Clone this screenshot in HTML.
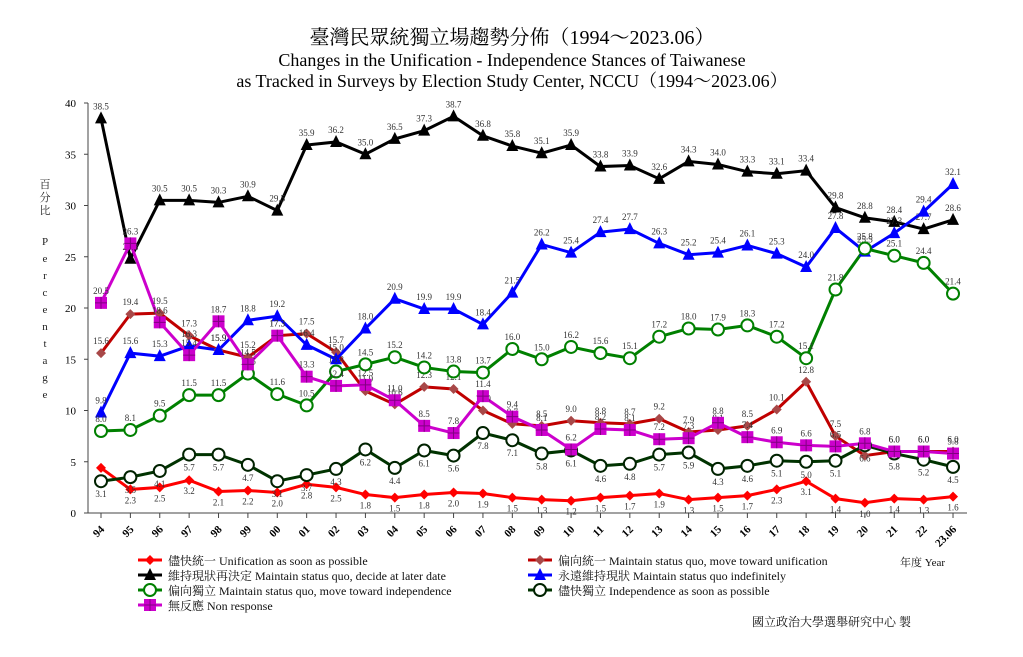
<!DOCTYPE html>
<html><head><meta charset="utf-8"><style>
body{margin:0;background:#fff;}
svg{display:block;font-family:"Liberation Serif","Noto Serif CJK SC","Noto Sans CJK TC",serif;}
</style></head><body>
<svg id="c" width="1023" height="657" viewBox="0 0 1023 657" xmlns="http://www.w3.org/2000/svg">
<rect width="1023" height="657" fill="#fff"/>
<text x="512" y="44" font-size="20" text-anchor="middle">臺灣民眾統獨立場趨勢分佈（1994～2023.06）</text>
<text x="512" y="66" font-size="18" text-anchor="middle">Changes in the Unification - Independence Stances of Taiwanese</text>
<text x="512" y="87" font-size="18" text-anchor="middle">as Tracked in Surveys by Election Study Center, NCCU（1994～2023.06）</text>
<g font-size="11" fill="#222">
<text x="45" y="188" text-anchor="middle">百</text><text x="45" y="201" text-anchor="middle">分</text><text x="45" y="214" text-anchor="middle">比</text>
<text x="45" y="245" text-anchor="middle">P</text><text x="45" y="262" text-anchor="middle">e</text><text x="45" y="279" text-anchor="middle">r</text><text x="45" y="296" text-anchor="middle">c</text><text x="45" y="313" text-anchor="middle">e</text><text x="45" y="330" text-anchor="middle">n</text><text x="45" y="347" text-anchor="middle">t</text><text x="45" y="364" text-anchor="middle">a</text><text x="45" y="381" text-anchor="middle">g</text><text x="45" y="398" text-anchor="middle">e</text>
</g>
<g id="axes" stroke="#444" stroke-width="1"></g>
<g id="plot"></g>
<g font-size="12" fill="#111">
<text x="168" y="565">儘快統一 Unification as soon as possible</text>
<text x="168" y="580">維持現狀再決定 Maintain status quo, decide at later date</text>
<text x="168" y="595">偏向獨立 Maintain status quo, move toward independence</text>
<text x="168" y="610">無反應 Non response</text>
<text x="558" y="565">偏向統一 Maintain status quo, move toward unification</text>
<text x="558" y="580">永遠維持現狀 Maintain status quo indefinitely</text>
<text x="558" y="595">儘快獨立 Independence as soon as possible</text>
<text x="900" y="566" font-size="11">年度 Year</text>
<text x="752" y="626" font-size="12">國立政治大學選舉研究中心 製</text>
</g>
<g id="leg"></g>
</svg>
<script>
var NS="http://www.w3.org/2000/svg",svg=document.getElementById('c');
function el(p,t,a,txt){var e=document.createElementNS(NS,t);for(var k in a)e.setAttribute(k,a[k]);if(txt!=null)e.textContent=txt;p.appendChild(e);return e;}
var X=function(i){return 101+i*29.38},Y=function(v){return 513-v*10.25};
var ax=document.getElementById('axes'),pl=document.getElementById('plot'),lg=document.getElementById('leg');
el(ax,'line',{x1:88,y1:103,x2:88,y2:513});el(ax,'line',{x1:88,y1:513,x2:967,y2:513});
for(var v=0;v<=40;v+=5){el(ax,'line',{x1:84,y1:Y(v),x2:88,y2:Y(v)});el(svg,'text',{x:76,y:Y(v)+4,'font-size':11,'text-anchor':'end'},String(v));}
var yrs=["94","95","96","97","98","99","00","01","02","03","04","05","06","07","08","09","10","11","12","13","14","15","16","17","18","19","20","21","22","23.06"];
for(var i=0;i<30;i++){el(ax,'line',{x1:X(i),y1:513,x2:X(i),y2:518});var t=el(svg,'text',{x:X(i)+4,y:530,'font-size':11,'font-weight':'bold','text-anchor':'end',transform:'rotate(-45 '+(X(i)+4)+' 530)'},yrs[i]);}
var S=[
{c:'#ff0000',m:'dia',mc:'#ff0000',d:[4.4,2.3,2.5,3.2,2.1,2.2,2.0,2.8,2.5,1.8,1.5,1.8,2.0,1.9,1.5,1.3,1.2,1.5,1.7,1.9,1.3,1.5,1.7,2.3,3.1,1.4,1.0,1.4,1.3,1.6],o:14},
{c:'#c00000',m:'dia',mc:'#a84848',d:[15.6,19.4,19.5,17.3,15.9,15.2,17.3,17.5,15.7,11.9,10.6,12.3,12.1,10.0,8.7,8.5,9.0,8.8,8.7,9.2,7.9,8.1,8.5,10.1,12.8,7.5,5.6,6.0,6.0,6.0],o:-9},
{c:'#000',m:'tri',mc:'#000',d:[38.5,24.8,30.5,30.5,30.3,30.9,29.5,35.9,36.2,35.0,36.5,37.3,38.7,36.8,35.8,35.1,35.9,33.8,33.9,32.6,34.3,34.0,33.3,33.1,33.4,29.8,28.8,28.4,27.7,28.6],o:-9},
{c:'#0000ff',m:'tri',mc:'#0000ff',d:[9.8,15.6,15.3,16.3,15.9,18.8,19.2,16.4,15.0,18.0,20.9,19.9,19.9,18.4,21.5,26.2,25.4,27.4,27.7,26.3,25.2,25.4,26.1,25.3,24.0,27.8,25.5,27.3,29.4,32.1],o:-9},
{c:'#008000',m:'circ',mc:'#008000',d:[8.0,8.1,9.5,11.5,11.5,13.6,11.6,10.5,13.8,14.5,15.2,14.2,13.8,13.7,16.0,15.0,16.2,15.6,15.1,17.2,18.0,17.9,18.3,17.2,15.1,21.8,25.8,25.1,24.4,21.4],o:-9},
{c:'#003300',m:'circ',mc:'#002200',d:[3.1,3.5,4.1,5.7,5.7,4.7,3.1,3.7,4.3,6.2,4.4,6.1,5.6,7.8,7.1,5.8,6.1,4.6,4.8,5.7,5.9,4.3,4.6,5.1,5.0,5.1,6.6,5.8,5.2,4.5],o:16},
{c:'#cc00cc',m:'sq',mc:'#cc00cc',d:[20.5,26.3,18.6,15.4,18.7,14.5,17.3,13.3,12.4,12.5,11.0,8.5,7.8,11.4,9.4,8.1,6.2,8.2,8.1,7.2,7.3,8.8,7.4,6.9,6.6,6.5,6.8,6.0,6.0,5.8],o:-9}
];
function mark(p,type,x,y,col){
 if(type=='dia')el(p,'polygon',{points:(x)+','+(y-5)+' '+(x+5)+','+y+' '+x+','+(y+5)+' '+(x-5)+','+y,fill:col});
 else if(type=='tri')el(p,'polygon',{points:x+','+(y-7)+' '+(x+6)+','+(y+5)+' '+(x-6)+','+(y+5),fill:col});
 else if(type=='circ')el(p,'circle',{cx:x,cy:y,r:6,fill:'#fff',stroke:col,'stroke-width':2});
 else{el(p,'rect',{x:x-6,y:y-6,width:12,height:12,fill:col});el(p,'path',{d:'M'+(x-6)+' '+y+'h12M'+x+' '+(y-6)+'v12',stroke:'#800080','stroke-width':1});}
}
S.forEach(function(s){
 var pts=s.d.map(function(v,i){return X(i)+','+Y(v)}).join(' ');
 el(pl,'polyline',{points:pts,fill:'none',stroke:s.c,'stroke-width':3});
});
S.forEach(function(s){
 s.d.forEach(function(v,i){mark(pl,s.m,X(i),Y(v),s.mc);
  el(pl,'text',{x:X(i),y:Y(v)+s.o,'font-size':9,'text-anchor':'middle',fill:'#333'},v.toFixed(1));});
});
var L=[[150,560,0],[150,575,2],[150,590,4],[150,605,6],[540,560,1],[540,575,3],[540,590,5]];
L.forEach(function(l){var s=S[l[2]];el(lg,'line',{x1:l[0]-12,y1:l[1],x2:l[0]+12,y2:l[1],stroke:s.c,'stroke-width':3});mark(lg,s.m,l[0],l[1],s.mc);});
</script>
</body></html>
